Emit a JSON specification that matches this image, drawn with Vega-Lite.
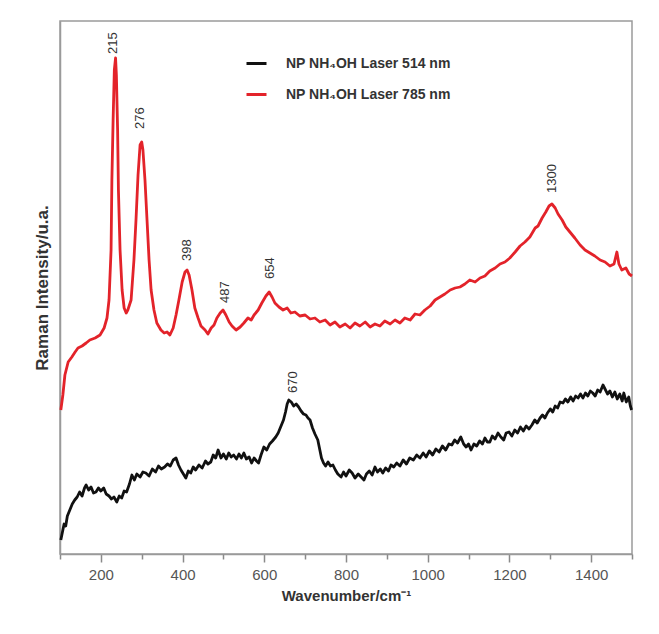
{
  "$schema": "https://vega.github.io/schema/vega-lite/v6.json",
  "width": 572,
  "height": 533,
  "autosize": {"type": "none"},
  "padding": {"left": 60, "top": 21, "right": 27, "bottom": 80},
  "background": "white",
  "config": {
    "view": {"stroke": "#9a9a9a", "strokeWidth": 1.5},
    "font": "Liberation Sans"
  },
  "datasets": {
    "spectra": [
      {"laser":"514","wn":102,"int":14},{"laser":"514","wn":106,"int":22},{"laser":"514","wn":110,"int":30},{"laser":"514","wn":114,"int":28},{"laser":"514","wn":118,"int":38},{"laser":"514","wn":124,"int":44},{"laser":"514","wn":130,"int":50},{"laser":"514","wn":136,"int":54},{"laser":"514","wn":142,"int":57},{"laser":"514","wn":148,"int":62},{"laser":"514","wn":154,"int":58},{"laser":"514","wn":160,"int":66},{"laser":"514","wn":164,"int":69},{"laser":"514","wn":170,"int":64},{"laser":"514","wn":176,"int":67},{"laser":"514","wn":182,"int":61},{"laser":"514","wn":188,"int":62},{"laser":"514","wn":194,"int":66},{"laser":"514","wn":200,"int":63},{"laser":"514","wn":207,"int":66},{"laser":"514","wn":213,"int":60},{"laser":"514","wn":220,"int":58},{"laser":"514","wn":226,"int":55},{"laser":"514","wn":232,"int":57},{"laser":"514","wn":239,"int":52},{"laser":"514","wn":245,"int":58},{"laser":"514","wn":251,"int":56},{"laser":"514","wn":257,"int":63},{"laser":"514","wn":263,"int":62},{"laser":"514","wn":270,"int":70},{"laser":"514","wn":276,"int":79},{"laser":"514","wn":282,"int":74},{"laser":"514","wn":288,"int":80},{"laser":"514","wn":296,"int":77},{"laser":"514","wn":303,"int":82},{"laser":"514","wn":310,"int":81},{"laser":"514","wn":318,"int":78},{"laser":"514","wn":326,"int":85},{"laser":"514","wn":334,"int":82},{"laser":"514","wn":341,"int":88},{"laser":"514","wn":348,"int":85},{"laser":"514","wn":356,"int":87},{"laser":"514","wn":363,"int":90},{"laser":"514","wn":370,"int":88},{"laser":"514","wn":377,"int":94},{"laser":"514","wn":384,"int":96},{"laser":"514","wn":390,"int":89},{"laser":"514","wn":396,"int":84},{"laser":"514","wn":402,"int":80},{"laser":"514","wn":408,"int":76},{"laser":"514","wn":414,"int":83},{"laser":"514","wn":420,"int":81},{"laser":"514","wn":426,"int":87},{"laser":"514","wn":432,"int":84},{"laser":"514","wn":440,"int":89},{"laser":"514","wn":448,"int":86},{"laser":"514","wn":456,"int":93},{"laser":"514","wn":462,"int":90},{"laser":"514","wn":469,"int":92},{"laser":"514","wn":475,"int":99},{"laser":"514","wn":481,"int":96},{"laser":"514","wn":487,"int":104},{"laser":"514","wn":494,"int":96},{"laser":"514","wn":500,"int":100},{"laser":"514","wn":507,"int":95},{"laser":"514","wn":513,"int":101},{"laser":"514","wn":519,"int":97},{"laser":"514","wn":525,"int":99},{"laser":"514","wn":532,"int":95},{"laser":"514","wn":538,"int":100},{"laser":"514","wn":544,"int":96},{"laser":"514","wn":550,"int":101},{"laser":"514","wn":556,"int":95},{"laser":"514","wn":563,"int":97},{"laser":"514","wn":569,"int":91},{"laser":"514","wn":575,"int":96},{"laser":"514","wn":581,"int":93},{"laser":"514","wn":586,"int":91},{"laser":"514","wn":592,"int":99},{"laser":"514","wn":599,"int":107},{"laser":"514","wn":606,"int":104},{"laser":"514","wn":613,"int":110},{"laser":"514","wn":620,"int":113},{"laser":"514","wn":628,"int":117},{"laser":"514","wn":634,"int":121},{"laser":"514","wn":640,"int":127},{"laser":"514","wn":647,"int":134},{"laser":"514","wn":652,"int":142},{"laser":"514","wn":656,"int":150},{"laser":"514","wn":660,"int":154},{"laser":"514","wn":666,"int":152},{"laser":"514","wn":672,"int":148},{"laser":"514","wn":678,"int":150},{"laser":"514","wn":684,"int":147},{"laser":"514","wn":690,"int":143},{"laser":"514","wn":696,"int":140},{"laser":"514","wn":702,"int":139},{"laser":"514","wn":707,"int":136},{"laser":"514","wn":712,"int":134},{"laser":"514","wn":718,"int":126},{"laser":"514","wn":724,"int":120},{"laser":"514","wn":731,"int":114},{"laser":"514","wn":736,"int":104},{"laser":"514","wn":740,"int":96},{"laser":"514","wn":745,"int":91},{"laser":"514","wn":750,"int":88},{"laser":"514","wn":756,"int":92},{"laser":"514","wn":762,"int":88},{"laser":"514","wn":768,"int":89},{"laser":"514","wn":774,"int":84},{"laser":"514","wn":780,"int":80},{"laser":"514","wn":788,"int":77},{"laser":"514","wn":794,"int":82},{"laser":"514","wn":800,"int":78},{"laser":"514","wn":808,"int":84},{"laser":"514","wn":815,"int":81},{"laser":"514","wn":822,"int":76},{"laser":"514","wn":830,"int":80},{"laser":"514","wn":837,"int":77},{"laser":"514","wn":844,"int":74},{"laser":"514","wn":850,"int":80},{"laser":"514","wn":857,"int":83},{"laser":"514","wn":864,"int":79},{"laser":"514","wn":871,"int":87},{"laser":"514","wn":877,"int":82},{"laser":"514","wn":884,"int":85},{"laser":"514","wn":890,"int":81},{"laser":"514","wn":897,"int":86},{"laser":"514","wn":904,"int":83},{"laser":"514","wn":910,"int":89},{"laser":"514","wn":917,"int":87},{"laser":"514","wn":924,"int":91},{"laser":"514","wn":932,"int":88},{"laser":"514","wn":940,"int":94},{"laser":"514","wn":948,"int":90},{"laser":"514","wn":956,"int":96},{"laser":"514","wn":965,"int":94},{"laser":"514","wn":973,"int":99},{"laser":"514","wn":981,"int":96},{"laser":"514","wn":989,"int":101},{"laser":"514","wn":996,"int":97},{"laser":"514","wn":1004,"int":103},{"laser":"514","wn":1012,"int":99},{"laser":"514","wn":1020,"int":105},{"laser":"514","wn":1028,"int":102},{"laser":"514","wn":1036,"int":108},{"laser":"514","wn":1044,"int":104},{"laser":"514","wn":1052,"int":110},{"laser":"514","wn":1059,"int":109},{"laser":"514","wn":1066,"int":114},{"laser":"514","wn":1073,"int":111},{"laser":"514","wn":1081,"int":117},{"laser":"514","wn":1088,"int":110},{"laser":"514","wn":1094,"int":107},{"laser":"514","wn":1100,"int":110},{"laser":"514","wn":1106,"int":104},{"laser":"514","wn":1113,"int":110},{"laser":"514","wn":1120,"int":108},{"laser":"514","wn":1127,"int":113},{"laser":"514","wn":1134,"int":110},{"laser":"514","wn":1140,"int":116},{"laser":"514","wn":1146,"int":112},{"laser":"514","wn":1152,"int":112},{"laser":"514","wn":1158,"int":118},{"laser":"514","wn":1165,"int":115},{"laser":"514","wn":1172,"int":121},{"laser":"514","wn":1179,"int":117},{"laser":"514","wn":1186,"int":114},{"laser":"514","wn":1192,"int":121},{"laser":"514","wn":1199,"int":122},{"laser":"514","wn":1206,"int":118},{"laser":"514","wn":1213,"int":124},{"laser":"514","wn":1220,"int":121},{"laser":"514","wn":1227,"int":127},{"laser":"514","wn":1234,"int":123},{"laser":"514","wn":1241,"int":128},{"laser":"514","wn":1248,"int":125},{"laser":"514","wn":1255,"int":129},{"laser":"514","wn":1262,"int":134},{"laser":"514","wn":1268,"int":131},{"laser":"514","wn":1275,"int":136},{"laser":"514","wn":1281,"int":139},{"laser":"514","wn":1287,"int":136},{"laser":"514","wn":1293,"int":141},{"laser":"514","wn":1300,"int":145},{"laser":"514","wn":1306,"int":142},{"laser":"514","wn":1312,"int":148},{"laser":"514","wn":1318,"int":146},{"laser":"514","wn":1324,"int":152},{"laser":"514","wn":1331,"int":151},{"laser":"514","wn":1337,"int":155},{"laser":"514","wn":1343,"int":152},{"laser":"514","wn":1350,"int":157},{"laser":"514","wn":1356,"int":153},{"laser":"514","wn":1362,"int":158},{"laser":"514","wn":1368,"int":156},{"laser":"514","wn":1374,"int":160},{"laser":"514","wn":1380,"int":156},{"laser":"514","wn":1386,"int":161},{"laser":"514","wn":1392,"int":158},{"laser":"514","wn":1398,"int":163},{"laser":"514","wn":1404,"int":161},{"laser":"514","wn":1410,"int":158},{"laser":"514","wn":1416,"int":164},{"laser":"514","wn":1422,"int":162},{"laser":"514","wn":1429,"int":169},{"laser":"514","wn":1434,"int":165},{"laser":"514","wn":1440,"int":160},{"laser":"514","wn":1446,"int":163},{"laser":"514","wn":1452,"int":157},{"laser":"514","wn":1458,"int":162},{"laser":"514","wn":1464,"int":155},{"laser":"514","wn":1470,"int":160},{"laser":"514","wn":1476,"int":153},{"laser":"514","wn":1480,"int":161},{"laser":"514","wn":1486,"int":152},{"laser":"514","wn":1492,"int":157},{"laser":"514","wn":1496,"int":148},{"laser":"514","wn":1499,"int":144},
      {"laser":"785","wn":102,"int":144},{"laser":"785","wn":107,"int":159},{"laser":"785","wn":112,"int":179},{"laser":"785","wn":120,"int":192},{"laser":"785","wn":129,"int":197},{"laser":"785","wn":137,"int":202},{"laser":"785","wn":144,"int":206},{"laser":"785","wn":154,"int":208},{"laser":"785","wn":164,"int":211},{"laser":"785","wn":173,"int":214},{"laser":"785","wn":186,"int":216},{"laser":"785","wn":198,"int":219},{"laser":"785","wn":208,"int":226},{"laser":"785","wn":215,"int":236},{"laser":"785","wn":220,"int":254},{"laser":"785","wn":225,"int":304},{"laser":"785","wn":227,"int":374},{"laser":"785","wn":230,"int":434},{"laser":"785","wn":233,"int":484},{"laser":"785","wn":236,"int":496},{"laser":"785","wn":238,"int":479},{"laser":"785","wn":241,"int":424},{"laser":"785","wn":243,"int":364},{"laser":"785","wn":247,"int":304},{"laser":"785","wn":252,"int":264},{"laser":"785","wn":257,"int":246},{"laser":"785","wn":262,"int":241},{"laser":"785","wn":266,"int":244},{"laser":"785","wn":274,"int":254},{"laser":"785","wn":281,"int":294},{"laser":"785","wn":286,"int":334},{"laser":"785","wn":291,"int":379},{"laser":"785","wn":296,"int":409},{"laser":"785","wn":300,"int":412},{"laser":"785","wn":303,"int":404},{"laser":"785","wn":308,"int":374},{"laser":"785","wn":313,"int":334},{"laser":"785","wn":318,"int":294},{"laser":"785","wn":323,"int":264},{"laser":"785","wn":330,"int":244},{"laser":"785","wn":337,"int":231},{"laser":"785","wn":347,"int":224},{"laser":"785","wn":355,"int":221},{"laser":"785","wn":362,"int":222},{"laser":"785","wn":369,"int":219},{"laser":"785","wn":377,"int":226},{"laser":"785","wn":384,"int":239},{"laser":"785","wn":391,"int":254},{"laser":"785","wn":399,"int":272},{"laser":"785","wn":406,"int":282},{"laser":"785","wn":411,"int":284},{"laser":"785","wn":416,"int":279},{"laser":"785","wn":423,"int":264},{"laser":"785","wn":430,"int":246},{"laser":"785","wn":438,"int":236},{"laser":"785","wn":445,"int":228},{"laser":"785","wn":455,"int":224},{"laser":"785","wn":462,"int":220},{"laser":"785","wn":470,"int":226},{"laser":"785","wn":477,"int":229},{"laser":"785","wn":484,"int":236},{"laser":"785","wn":492,"int":241},{"laser":"785","wn":499,"int":244},{"laser":"785","wn":506,"int":239},{"laser":"785","wn":514,"int":232},{"laser":"785","wn":521,"int":228},{"laser":"785","wn":531,"int":224},{"laser":"785","wn":541,"int":227},{"laser":"785","wn":550,"int":231},{"laser":"785","wn":560,"int":236},{"laser":"785","wn":568,"int":234},{"laser":"785","wn":575,"int":239},{"laser":"785","wn":585,"int":244},{"laser":"785","wn":594,"int":251},{"laser":"785","wn":604,"int":258},{"laser":"785","wn":612,"int":262},{"laser":"785","wn":619,"int":257},{"laser":"785","wn":626,"int":251},{"laser":"785","wn":636,"int":247},{"laser":"785","wn":646,"int":244},{"laser":"785","wn":656,"int":246},{"laser":"785","wn":665,"int":241},{"laser":"785","wn":675,"int":242},{"laser":"785","wn":687,"int":238},{"laser":"785","wn":700,"int":239},{"laser":"785","wn":712,"int":235},{"laser":"785","wn":724,"int":236},{"laser":"785","wn":736,"int":232},{"laser":"785","wn":749,"int":234},{"laser":"785","wn":761,"int":229},{"laser":"785","wn":773,"int":232},{"laser":"785","wn":785,"int":227},{"laser":"785","wn":798,"int":230},{"laser":"785","wn":810,"int":226},{"laser":"785","wn":822,"int":231},{"laser":"785","wn":834,"int":228},{"laser":"785","wn":847,"int":232},{"laser":"785","wn":859,"int":227},{"laser":"785","wn":871,"int":230},{"laser":"785","wn":883,"int":228},{"laser":"785","wn":895,"int":233},{"laser":"785","wn":908,"int":230},{"laser":"785","wn":920,"int":234},{"laser":"785","wn":932,"int":231},{"laser":"785","wn":944,"int":236},{"laser":"785","wn":957,"int":234},{"laser":"785","wn":969,"int":240},{"laser":"785","wn":981,"int":239},{"laser":"785","wn":993,"int":244},{"laser":"785","wn":1006,"int":248},{"laser":"785","wn":1018,"int":254},{"laser":"785","wn":1030,"int":257},{"laser":"785","wn":1042,"int":260},{"laser":"785","wn":1055,"int":264},{"laser":"785","wn":1067,"int":266},{"laser":"785","wn":1079,"int":267},{"laser":"785","wn":1091,"int":270},{"laser":"785","wn":1103,"int":274},{"laser":"785","wn":1116,"int":272},{"laser":"785","wn":1128,"int":276},{"laser":"785","wn":1140,"int":278},{"laser":"785","wn":1152,"int":283},{"laser":"785","wn":1165,"int":286},{"laser":"785","wn":1177,"int":290},{"laser":"785","wn":1189,"int":292},{"laser":"785","wn":1201,"int":296},{"laser":"785","wn":1214,"int":302},{"laser":"785","wn":1226,"int":308},{"laser":"785","wn":1238,"int":312},{"laser":"785","wn":1250,"int":317},{"laser":"785","wn":1263,"int":326},{"laser":"785","wn":1270,"int":328},{"laser":"785","wn":1280,"int":336},{"laser":"785","wn":1289,"int":342},{"laser":"785","wn":1297,"int":348},{"laser":"785","wn":1304,"int":350},{"laser":"785","wn":1312,"int":346},{"laser":"785","wn":1319,"int":340},{"laser":"785","wn":1329,"int":334},{"laser":"785","wn":1338,"int":327},{"laser":"785","wn":1348,"int":322},{"laser":"785","wn":1360,"int":316},{"laser":"785","wn":1373,"int":309},{"laser":"785","wn":1385,"int":304},{"laser":"785","wn":1397,"int":301},{"laser":"785","wn":1409,"int":298},{"laser":"785","wn":1422,"int":294},{"laser":"785","wn":1434,"int":292},{"laser":"785","wn":1446,"int":288},{"laser":"785","wn":1456,"int":290},{"laser":"785","wn":1463,"int":302},{"laser":"785","wn":1468,"int":290},{"laser":"785","wn":1475,"int":284},{"laser":"785","wn":1485,"int":286},{"laser":"785","wn":1493,"int":280},{"laser":"785","wn":1500,"int":278}
    ],
    "peaks": [
      {"label": "215", "wn": 230, "int": 500},
      {"label": "276", "wn": 297, "int": 425},
      {"label": "398", "wn": 411, "int": 293},
      {"label": "487", "wn": 505, "int": 251},
      {"label": "654", "wn": 614, "int": 275},
      {"label": "1300", "wn": 1304, "int": 361},
      {"label": "670", "wn": 670, "int": 161}
    ]
  },
  "layer": [
    {
      "data": {"name": "spectra"},
      "mark": {"type": "line", "strokeWidth": 2.8, "strokeJoin": "round"},
      "encoding": {
        "x": {
          "field": "wn", "type": "quantitative",
          "scale": {"domain": [100, 1500], "nice": false, "zero": false},
          "axis": {
            "orient": "bottom",
            "values": [200, 400, 600, 800, 1000, 1200, 1400],
            "format": "d",
            "grid": false, "domainColor": "#9a9a9a", "domainWidth": 1.5,
            "tickColor": "#8a8a8a", "tickWidth": 1.5, "tickSize": 8,
            "labelFont": "Liberation Sans", "labelFontSize": 15, "labelColor": "#555555", "labelPadding": 5,
            "title": "Wavenumber/cm⁻¹", "titleFont": "Liberation Sans", "titleFontSize": 15, "titleFontWeight": "bold",
            "titleColor": "#333333", "titlePadding": 6
          }
        },
        "y": {
          "field": "int", "type": "quantitative",
          "scale": {"domain": [0, 533], "nice": false, "zero": false},
          "axis": {
            "labels": false, "ticks": false, "grid": false,
            "domainColor": "#9a9a9a", "domainWidth": 1.5,
            "title": "Raman Intensity/u.a.", "titleFont": "Liberation Sans", "titleFontSize": 17, "titleFontWeight": "bold",
            "titleColor": "#333333", "titlePadding": 9
          }
        },
        "color": {
          "field": "laser", "type": "nominal",
          "scale": {"domain": ["514", "785"], "range": ["#111111", "#e3232a"]},
          "legend": {
            "title": null, "orient": "none", "legendX": 185, "legendY": 31,
            "labelExpr": "'NP NH₄OH Laser ' + datum.label + ' nm'",
            "symbolType": "stroke", "symbolSize": 400, "symbolStrokeWidth": 3,
            "labelFont": "Liberation Sans", "labelFontSize": 14, "labelFontWeight": "bold", "labelColor": "#333333",
            "labelOffset": 18, "rowPadding": 12, "labelLimit": 400
          }
        }
      }
    },
    {
      "data": {"name": "peaks"},
      "mark": {"type": "text", "angle": 270, "align": "left", "baseline": "middle", "font": "Liberation Sans", "fontSize": 13, "color": "#333333"},
      "encoding": {
        "x": {
          "field": "wn", "type": "quantitative",
          "axis": {
            "orient": "bottom", "values": [100, 300, 500, 700, 900, 1100, 1300, 1500],
            "labels": false, "domain": false, "grid": false, "title": null,
            "tickColor": "#8a8a8a", "tickWidth": 1.5, "tickSize": 5
          }
        },
        "y": {"field": "int", "type": "quantitative"},
        "text": {"field": "label"}
      }
    }
  ],
  "resolve": {"axis": {"x": "independent"}}
}
